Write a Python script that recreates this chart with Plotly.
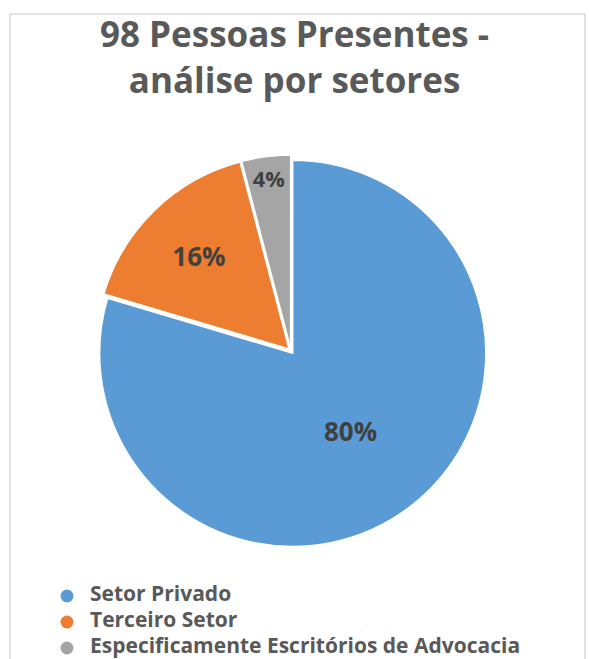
import plotly.graph_objects as go

categories = ["Setor Privado", "Terceiro Setor", "Especificamente Escritórios de Advocacia"]
people = [78, 16, 4]
colors = ["#5B9BD5", "#ED7D31", "#A5A5A5"]
title_text = "98 Pessoas Presentes -<br>análise por setores"

FONT = "Open Sans"
W, H = 589, 659

fig = go.Figure()
fig.add_trace(go.Pie(
    labels=categories,
    values=people,
    sort=False,
    direction="clockwise",
    rotation=0,
    pull=[0.015, 0.015, 0.015],
    marker=dict(colors=colors, line=dict(color="white", width=1.5)),
    textinfo="percent",
    texttemplate="<b>%{percent:.0%}</b>",
    textposition="inside",
    insidetextorientation="horizontal",
    textfont=dict(family=FONT, size=26, color="#404040"),
    showlegend=False,
    domain=dict(x=[95 / W, 487 / W], y=[(H - 547) / H, (H - 155) / H]),
    hoverinfo="label+percent",
))

# legend rows drawn on a hidden categorical axis (marker column + label column)
fig.add_trace(go.Scatter(
    x=[0] * len(categories), y=categories, mode="markers",
    marker=dict(symbol="circle", size=13, color=colors),
    hoverinfo="skip", showlegend=False, cliponaxis=False,
))
fig.add_trace(go.Scatter(
    x=[1] * len(categories), y=categories, mode="text",
    text=["<b>" + c + "</b>" for c in categories],
    textposition="middle right",
    textfont=dict(family=FONT, size=21, color="#595959"),
    hoverinfo="skip", showlegend=False, cliponaxis=False,
))

fig.update_layout(
    width=W, height=H,
    margin=dict(l=0, r=0, t=0, b=0),
    paper_bgcolor="white",
    plot_bgcolor="rgba(0,0,0,0)",
    showlegend=False,
    xaxis=dict(visible=False, range=[-67 / 23, (W - 67) / 23], domain=[0, 1], fixedrange=True),
    yaxis=dict(visible=False, type="category", categoryorder="array", categoryarray=categories,
               range=[2 + 11 / 26, -0.5], domain=[0, 76 / H], fixedrange=True),
    annotations=[dict(
        text="<b>" + title_text + "</b>",
        xref="paper", yref="paper",
        x=0.5, xanchor="center",
        y=1 - 8 / H, yanchor="top",
        showarrow=False,
        font=dict(family=FONT, size=35, color="#595959"),
    )],
    shapes=[dict(
        type="rect", xref="paper", yref="paper",
        x0=10 / W, x1=585 / W, y0=-0.05, y1=1 - 14 / H,
        line=dict(color="#D9D9D9", width=1.5),
        fillcolor="rgba(0,0,0,0)", layer="below",
    )],
)

fig.write_html(
    "out.html",
    config={"displayModeBar": False},
    post_script="document.body.style.margin='0';document.body.style.overflow='hidden';",
)
